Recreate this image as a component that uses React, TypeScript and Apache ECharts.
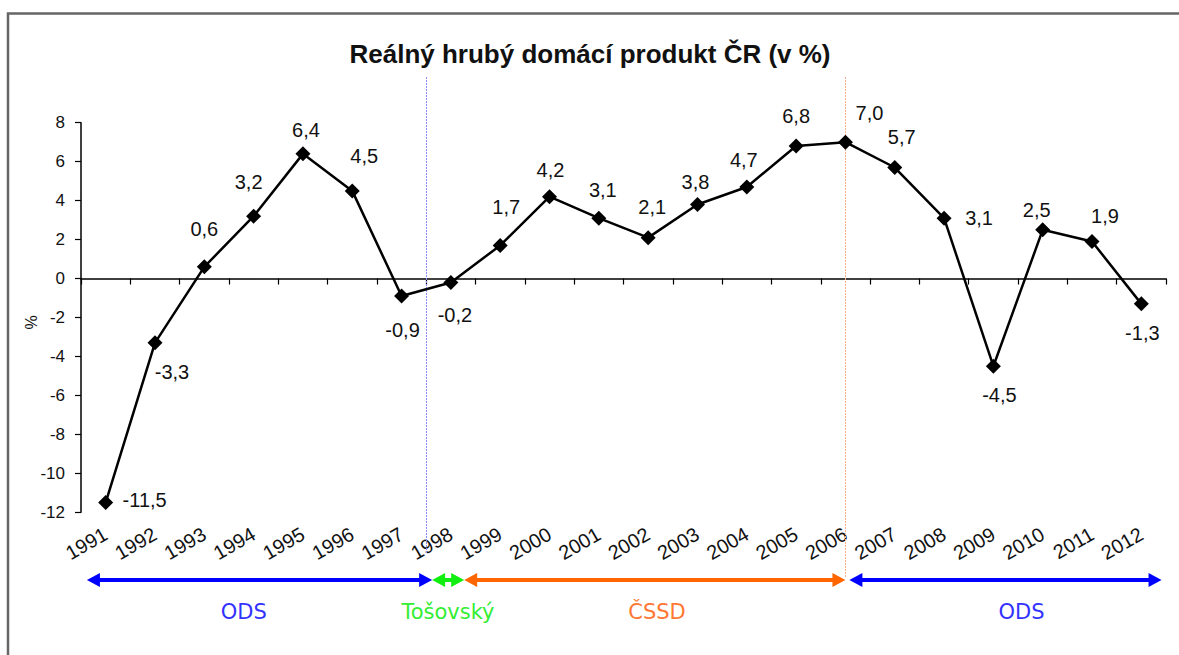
import React, { useEffect, useRef } from "react";
import * as echarts from "echarts";

// ---- data ----
const years = [
  "1991", "1992", "1993", "1994", "1995", "1996", "1997", "1998", "1999", "2000", "2001",
  "2002", "2003", "2004", "2005", "2006", "2007", "2008", "2009", "2010", "2011", "2012",
];
const gdpGrowth = [
  -11.5, -3.3, 0.6, 3.2, 6.4, 4.5, -0.9, -0.2, 1.7, 4.2, 3.1,
  2.1, 3.8, 4.7, 6.8, 7.0, 5.7, 3.1, -4.5, 2.5, 1.9, -1.3,
];
const yMin = -12;
const yMax = 8;
const yStep = 2;
const chartTitle = "Reálný hrubý domácí produkt ČR (v %)";
const yAxisName = "%";
const governments = ["ODS", "Tošovský", "ČSSD", "ODS"];

// ---- layout / style (not data) ----
// label offsets [dx, dy] from each marker centre
const labelOffsets: [number, number][] = [
  [39, -3], [17, 29], [0, -38], [-5, -34], [3, -24], [12, -35], [1, 34], [4, 33],
  [6, -38], [1, -27], [4, -28], [4, -31], [-2, -23], [-3, -27], [0, -30], [24, -29],
  [7, -31], [35, 0], [6, 29], [-6, -20], [13, -26], [1, 29],
];
// government arrows in category-index units
const govFrom = [-0.38, 6.62, 7.27, 15.08];
const govTo = [6.62, 7.27, 15.0, 21.41];
const govLabelAt = [2.8, 6.94, 11.18, 18.57];
const govArrowColors = ["#0000ff", "#11ee11", "#ff6600", "#0000ff"];
const govTextColors = ["#3333ff", "#33ee33", "#ff7733", "#3333ff"];
const dividers = [
  { at: 6.5, color: "#8c8cff", y2: 553 },
  { at: 15, color: "#ffb08a", y2: 578 },
];

const FONT = "Liberation Sans, Arial, sans-serif";
const fmt = (v: number) => v.toFixed(1).replace(".", ",");

export default function App() {
  const ref = useRef<HTMLDivElement>(null);

  useEffect(() => {
    if (!ref.current) return;
    const chart = echarts.init(ref.current, null, { renderer: "svg" });

    const option: any = {
      animation: false,
      backgroundColor: "#ffffff",
      grid: { left: 81, right: 13, top: 122.7, bottom: 142.7, containLabel: false },
      xAxis: [
        {
          type: "category",
          data: years,
          boundaryGap: true,
          axisLine: { show: true, onZero: true, lineStyle: { color: "#000", width: 1.5 } },
          axisTick: { show: true, length: 6, lineStyle: { color: "#000", width: 1.2 } },
          axisLabel: { show: false },
          splitLine: { show: false },
        },
        {
          type: "category",
          data: years,
          boundaryGap: true,
          position: "bottom",
          axisLine: { show: false, onZero: false },
          axisTick: { show: false },
          axisLabel: {
            show: true,
            interval: 0,
            rotate: 30,
            margin: 20,
            fontSize: 20,
            color: "#111",
            fontFamily: FONT,
          },
          splitLine: { show: false },
        },
      ],
      yAxis: {
        type: "value",
        min: yMin,
        max: yMax,
        interval: yStep,
        axisLine: { show: true, lineStyle: { color: "#000", width: 1.5 } },
        axisTick: { show: true, length: 6, lineStyle: { color: "#000", width: 1.2 } },
        axisLabel: {
          fontSize: 17,
          color: "#111",
          margin: 16,
          fontFamily: FONT,
        },
        splitLine: { show: false },
      },
      series: [
        {
          type: "line",
          xAxisIndex: 0,
          data: gdpGrowth.map((v, i) => ({
            value: v,
            label: { offset: labelOffsets[i] },
          })),
          symbol: "diamond",
          symbolSize: 15,
          itemStyle: { color: "#000" },
          lineStyle: { color: "#000", width: 2.5 },
          label: {
            show: true,
            position: "inside",
            formatter: (p: any) => fmt(p.value),
            fontSize: 20,
            color: "#111",
            fontFamily: FONT,
          },
          z: 5,
        },
      ],
    };
    chart.setOption(option);

    // build overlay graphics from the axis scales
    const p0 = chart.convertToPixel({ xAxisIndex: 0 }, years[0]) as number;
    const p1 = chart.convertToPixel({ xAxisIndex: 0 }, years[1]) as number;
    const xAt = (idx: number) => p0 + (p1 - p0) * idx;
    const yTop = chart.convertToPixel({ yAxisIndex: 0 }, yMax) as number;
    const yBot = chart.convertToPixel({ yAxisIndex: 0 }, yMin) as number;

    const graphics: any[] = [];
    // frame
    graphics.push({
      type: "polyline",
      shape: { points: [[8, 660], [8, 13.5], [1185, 13.5]] },
      style: { stroke: "#666", lineWidth: 2.5, fill: null },
      silent: true,
    });
    // title
    graphics.push({
      type: "text",
      x: 590,
      y: 54,
      style: {
        text: chartTitle,
        fontSize: 26,
        fontWeight: "bold",
        fontFamily: FONT,
        fill: "#111",
        align: "center",
        verticalAlign: "middle",
      },
    });
    // y axis name
    graphics.push({
      type: "text",
      x: 31,
      y: (yTop + yBot) / 2 + 5,
      rotation: Math.PI / 2,
      style: {
        text: yAxisName,
        fontSize: 16,
        fontFamily: FONT,
        fill: "#111",
        align: "center",
        verticalAlign: "middle",
      },
    });
    // vertical dividers
    dividers.forEach((d) => {
      const x = Math.round(xAt(d.at)) + 0.5;
      graphics.push({
        type: "line",
        shape: { x1: x, y1: 77, x2: x, y2: d.y2 },
        style: { stroke: d.color, lineWidth: 1, lineDash: [2, 1] },
        z: 1,
        silent: true,
      });
    });
    // government arrows
    const ay = 580;
    const head = 13;
    const hw = 7;
    governments.forEach((g, i) => {
      const x1 = xAt(govFrom[i]);
      const x2 = xAt(govTo[i]);
      const c = govArrowColors[i];
      graphics.push({
        type: "line",
        shape: { x1: x1 + head - 2, y1: ay, x2: x2 - head + 2, y2: ay },
        style: { stroke: c, lineWidth: 4 },
      });
      graphics.push({
        type: "polygon",
        shape: { points: [[x1, ay], [x1 + head, ay - hw], [x1 + head, ay + hw]] },
        style: { fill: c },
      });
      graphics.push({
        type: "polygon",
        shape: { points: [[x2, ay], [x2 - head, ay - hw], [x2 - head, ay + hw]] },
        style: { fill: c },
      });
      graphics.push({
        type: "text",
        x: xAt(govLabelAt[i]),
        y: 612,
        style: {
          text: g,
          fontSize: 21,
          fontFamily: "DejaVu Sans, Verdana, sans-serif",
          fill: govTextColors[i],
          align: "center",
          verticalAlign: "middle",
        },
      });
    });

    chart.setOption({ graphic: graphics });

    return () => chart.dispose();
  }, []);

  return (
    <div
      ref={ref}
      style={{ position: "fixed", left: 0, top: 0, width: 1179, height: 655, background: "#fff" }}
    />
  );
}
